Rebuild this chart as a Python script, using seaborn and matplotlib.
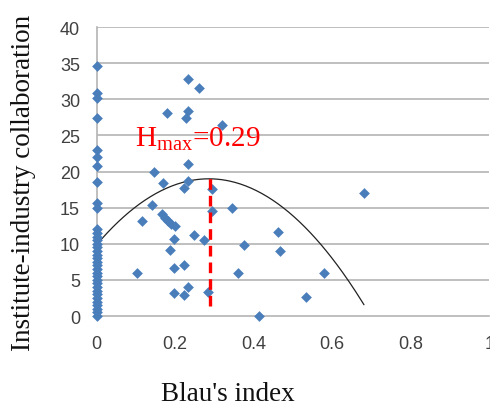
import numpy as np
import pandas as pd
import seaborn as sns
import matplotlib.pyplot as plt

# Blau's index = 0 column
zero_collab = [34.6, 30.8, 30.2, 27.4, 23.0, 22.0, 20.8, 18.6, 15.6, 15.0,
               12.0, 11.5, 11.0, 10.5, 10.0, 9.5, 9.0, 8.5, 8.0, 7.5, 7.0,
               6.5, 6.0, 5.5, 5.0, 4.5, 4.0, 3.5, 3.0, 2.5, 2.0, 1.5, 1.0,
               0.5, 0.0]

# remaining points (Blau's index, collaboration)
blau = [0.104, 0.116, 0.142, 0.145, 0.170, 0.166, 0.174, 0.181, 0.189, 0.199,
        0.180, 0.188, 0.198, 0.198, 0.198, 0.222, 0.222, 0.233, 0.222, 0.233,
        0.233, 0.228, 0.233, 0.233, 0.261, 0.249, 0.273, 0.284, 0.295, 0.295,
        0.320, 0.346, 0.375, 0.361, 0.414, 0.463, 0.468, 0.533, 0.580, 0.682]
collab = [5.9, 13.2, 15.3, 20.0, 18.4, 14.1, 13.6, 13.2, 12.8, 12.4,
          28.1, 9.2, 10.6, 6.7, 3.2, 7.0, 2.9, 4.0, 17.7, 18.7,
          21.0, 27.4, 28.4, 32.8, 31.6, 11.2, 10.5, 3.3, 17.6, 14.6,
          26.4, 14.9, 9.8, 5.9, 0.0, 11.6, 9.0, 2.6, 5.9, 17.0]

# quadratic trendline (c2, c1, c0) and its x range
trend_coef = [-111.6, 63.8, 9.87]
trend_range = [0.0, 0.681]
h_max = 0.29
h_max_top = 19.2
h_max_bottom = 1.4

x_ticks = [0, 0.2, 0.4, 0.6, 0.8, 1]
x_labels = ['0', '0.2', '0.4', '0.6', '0.8', '1']
y_ticks = [0, 5, 10, 15, 20, 25, 30, 35, 40]

df = pd.DataFrame({
    'blau': [0.0] * len(zero_collab) + blau,
    'collab': zero_collab + collab,
})
trend_x = np.linspace(trend_range[0], trend_range[1], 200)
trend = pd.DataFrame({'blau': trend_x, 'collab': np.polyval(trend_coef, trend_x)})

sns.set_style('white')
fig = plt.figure(figsize=(4.9, 4.1), dpi=100)
ax = fig.add_axes([0.1973, 0.2268, 0.801, 0.7049])

grid_col = '#b4b4b4'
for yv in y_ticks[1:]:
    ax.axhline(yv, color=grid_col, lw=1.2, zorder=0)

sns.lineplot(data=trend, x='blau', y='collab', color='#222222', lw=0.9, ax=ax,
             zorder=2)
sns.scatterplot(data=df, x='blau', y='collab', marker='D', s=30,
                color='#4a7ebb', linewidth=0, ax=ax, zorder=3)
for c in ax.collections:
    c.set_clip_on(False)

ax.plot([h_max, h_max], [h_max_bottom, h_max_top], color='red', lw=2.4,
        ls=(0, (3.2, 1.8)), zorder=4)
ax.text(0.0976, 23.7, r'H$_{\mathregular{max}}$=0.29', color='red',
        fontsize=21, family='Liberation Serif', va='baseline', ha='left',
        zorder=5)

ax.set_xlim(0, 1)
ax.set_ylim(0, 40)
ax.set_xticks(x_ticks)
ax.set_xticklabels(x_labels)
ax.set_yticks(y_ticks)

for side in ['top', 'right']:
    ax.spines[side].set_visible(False)
for side in ['left', 'bottom']:
    ax.spines[side].set_color(grid_col)
    ax.spines[side].set_linewidth(1.2)

ax.tick_params(axis='both', which='both', direction='out', length=4,
               width=1, color=grid_col, labelcolor='#404040', labelsize=13)
ax.tick_params(axis='y', pad=8)
ax.tick_params(axis='x', pad=10)
for lab in ax.get_xticklabels() + ax.get_yticklabels():
    lab.set_family('Liberation Sans')

ax.set_xlabel("Blau's index", family='Liberation Serif', fontsize=19.5,
              color='#111111')
ax.set_ylabel('Institute-industry collaboration', family='Liberation Serif',
              fontsize=19.5, color='#111111')
ax.xaxis.set_label_coords(0.3345, -0.225)
ax.yaxis.set_label_coords(-0.155, 0.465)

fig.savefig('out.png', dpi=100)
